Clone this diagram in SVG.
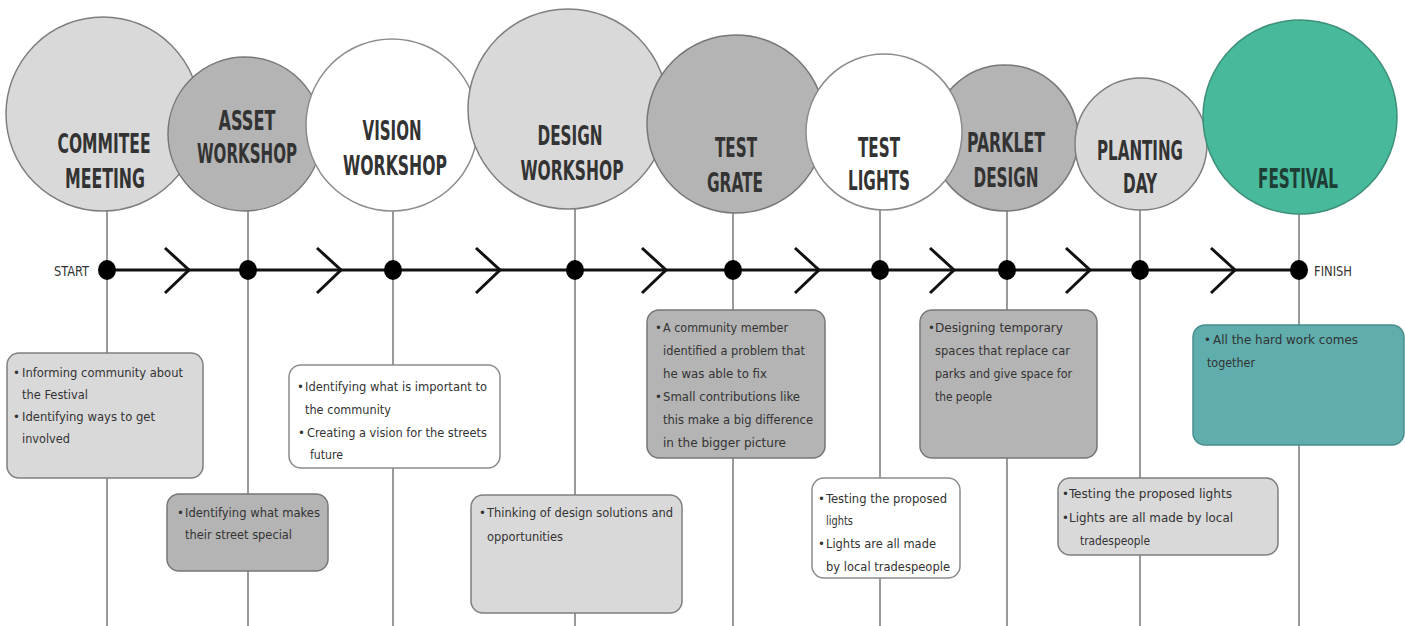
<svg xmlns="http://www.w3.org/2000/svg" width="1405" height="626" viewBox="0 0 1405 626">
<defs>
<style>
.light{fill:#d9d9d9;stroke:#7f7f7f;stroke-width:1.5}
.dark{fill:#b4b4b4;stroke:#777777;stroke-width:1.5}
.white{fill:#ffffff;stroke:#8c8c8c;stroke-width:1.5}
.teal{fill:#48b99b;stroke:#3c8f78;stroke-width:1.5}
.tealbox{fill:#5fadad;stroke:#4b8d8d;stroke-width:1.5}
.vline{stroke:#9a9a9a;stroke-width:2;fill:none}
.cl{font-family:"Liberation Sans Narrow","DejaVu Sans Condensed","Liberation Sans",sans-serif;font-size:27px;font-weight:bold;fill:#333;text-anchor:middle}
.bt{font-family:"Liberation Sans Narrow","DejaVu Sans Condensed","Liberation Sans",sans-serif;font-size:13px;fill:#333}
.se{font-family:"Liberation Sans Narrow","DejaVu Sans Condensed","Liberation Sans",sans-serif;font-size:14px;fill:#333}
.chev{fill:none;stroke:#111;stroke-width:3}
</style>
</defs>
<rect width="1405" height="626" fill="#ffffff"/>

<g id="connectors">
<line class="vline" x1="107" y1="200" x2="107" y2="626"/>
<line class="vline" x1="248" y1="200" x2="248" y2="626"/>
<line class="vline" x1="393" y1="200" x2="393" y2="626"/>
<line class="vline" x1="575" y1="200" x2="575" y2="626"/>
<line class="vline" x1="733" y1="200" x2="733" y2="626"/>
<line class="vline" x1="880" y1="200" x2="880" y2="626"/>
<line class="vline" x1="1007" y1="200" x2="1007" y2="626"/>
<line class="vline" x1="1140" y1="200" x2="1140" y2="626"/>
<line class="vline" x1="1299" y1="200" x2="1299" y2="626"/>
<line x1="107" y1="270" x2="1299" y2="270" stroke="#111" stroke-width="3"/>
<polyline class="chev" points="165,248 189,270 165,293"/>
<polyline class="chev" points="317,248 341,270 317,293"/>
<polyline class="chev" points="476,248 500,270 476,293"/>
<polyline class="chev" points="642,248 666,270 642,293"/>
<polyline class="chev" points="795,248 819,270 795,293"/>
<polyline class="chev" points="930,248 954,270 930,293"/>
<polyline class="chev" points="1066,248 1090,270 1066,293"/>
<polyline class="chev" points="1211,248 1235,270 1211,293"/>
<g fill="#000">
<ellipse cx="107" cy="270" rx="9" ry="10"/>
<ellipse cx="248" cy="270" rx="9" ry="10"/>
<ellipse cx="393" cy="270" rx="9" ry="10"/>
<ellipse cx="575" cy="270" rx="9" ry="10"/>
<ellipse cx="733" cy="270" rx="9" ry="10"/>
<ellipse cx="880" cy="270" rx="9" ry="10"/>
<ellipse cx="1007" cy="270" rx="9" ry="10"/>
<ellipse cx="1140" cy="270" rx="9" ry="10"/>
<ellipse cx="1299" cy="270" rx="9" ry="10"/>
</g>
<text class="se" x="54" y="276" textLength="35" lengthAdjust="spacingAndGlyphs">START</text>
<text class="se" x="1314" y="276" textLength="38" lengthAdjust="spacingAndGlyphs">FINISH</text>
</g>

<g id="node-commitee">
<circle class="light" cx="103" cy="114" r="97"/>
<text class="cl" x="104" y="153" textLength="93" lengthAdjust="spacingAndGlyphs">COMMITEE</text>
<text class="cl" x="105" y="188" textLength="80" lengthAdjust="spacingAndGlyphs">MEETING</text>
</g>
<g id="node-asset">
<circle class="dark" cx="245" cy="134" r="77"/>
<text class="cl" x="247" y="130" textLength="57" lengthAdjust="spacingAndGlyphs">ASSET</text>
<text class="cl" x="247" y="163" textLength="100" lengthAdjust="spacingAndGlyphs">WORKSHOP</text>
</g>
<g id="node-vision">
<circle class="white" cx="392" cy="125" r="86"/>
<text class="cl" x="392" y="140" textLength="59" lengthAdjust="spacingAndGlyphs">VISION</text>
<text class="cl" x="395" y="175" textLength="104" lengthAdjust="spacingAndGlyphs">WORKSHOP</text>
</g>
<g id="node-design">
<circle class="light" cx="568" cy="109" r="100"/>
<text class="cl" x="570" y="145" textLength="65" lengthAdjust="spacingAndGlyphs">DESIGN</text>
<text class="cl" x="572" y="180" textLength="103" lengthAdjust="spacingAndGlyphs">WORKSHOP</text>
</g>
<g id="node-grate">
<circle class="dark" cx="736" cy="124" r="89"/>
<text class="cl" x="736" y="157" textLength="42" lengthAdjust="spacingAndGlyphs">TEST</text>
<text class="cl" x="735" y="192" textLength="56" lengthAdjust="spacingAndGlyphs">GRATE</text>
</g>
<g id="node-parklet">
<circle class="dark" cx="1005" cy="138" r="73"/>
<text class="cl" x="1006" y="152" textLength="78" lengthAdjust="spacingAndGlyphs">PARKLET</text>
<text class="cl" x="1006" y="187" textLength="65" lengthAdjust="spacingAndGlyphs">DESIGN</text>
</g>
<g id="node-lights">
<circle class="white" cx="884" cy="132" r="78"/>
<text class="cl" x="879" y="157" textLength="42" lengthAdjust="spacingAndGlyphs">TEST</text>
<text class="cl" x="879" y="190" textLength="62" lengthAdjust="spacingAndGlyphs">LIGHTS</text>
</g>
<g id="node-planting">
<circle class="light" cx="1141" cy="144" r="66"/>
<text class="cl" x="1140" y="160" textLength="86" lengthAdjust="spacingAndGlyphs">PLANTING</text>
<text class="cl" x="1140" y="193" textLength="34" lengthAdjust="spacingAndGlyphs">DAY</text>
</g>
<g id="node-festival">
<circle class="teal" cx="1300" cy="117" r="97"/>
<text class="cl" x="1298" y="188" textLength="80" lengthAdjust="spacingAndGlyphs" fill="#1e3d34" style="fill:#1e3d34">FESTIVAL</text>
</g>

<g id="box-commitee">
<rect class="light" x="7" y="353" width="196" height="125" rx="12"/>
<text class="bt" x="13" y="377">•</text>
<text class="bt" x="22" y="377" textLength="161" lengthAdjust="spacingAndGlyphs">Informing community about</text>
<text class="bt" x="22" y="399" textLength="66" lengthAdjust="spacingAndGlyphs">the Festival</text>
<text class="bt" x="13" y="421">•</text>
<text class="bt" x="22" y="421" textLength="133" lengthAdjust="spacingAndGlyphs">Identifying ways to get</text>
<text class="bt" x="22" y="443" textLength="48" lengthAdjust="spacingAndGlyphs">involved</text>
</g>
<g id="box-asset">
<rect class="dark" x="167" y="494" width="161" height="77" rx="12"/>
<text class="bt" x="177" y="517">•</text>
<text class="bt" x="185" y="517" textLength="135" lengthAdjust="spacingAndGlyphs">Identifying what makes</text>
<text class="bt" x="185" y="539" textLength="107" lengthAdjust="spacingAndGlyphs">their street special</text>
</g>
<g id="box-vision">
<rect class="white" x="289" y="365" width="211" height="103" rx="12"/>
<text class="bt" x="297" y="391">•</text>
<text class="bt" x="305" y="391" textLength="182" lengthAdjust="spacingAndGlyphs">Identifying what is important to</text>
<text class="bt" x="305" y="414" textLength="86" lengthAdjust="spacingAndGlyphs">the community</text>
<text class="bt" x="298" y="437">•</text>
<text class="bt" x="307" y="437" textLength="180" lengthAdjust="spacingAndGlyphs">Creating a vision for the streets</text>
<text class="bt" x="310" y="459" textLength="33" lengthAdjust="spacingAndGlyphs">future</text>
</g>
<g id="box-design">
<rect class="light" x="471" y="495" width="211" height="118" rx="12"/>
<text class="bt" x="479" y="517">•</text>
<text class="bt" x="487" y="517" textLength="186" lengthAdjust="spacingAndGlyphs">Thinking of design solutions and</text>
<text class="bt" x="487" y="541" textLength="76" lengthAdjust="spacingAndGlyphs">opportunities</text>
</g>
<g id="box-grate">
<rect class="dark" x="647" y="310" width="178" height="148" rx="12"/>
<text class="bt" x="655" y="332">•</text>
<text class="bt" x="663" y="332" textLength="125" lengthAdjust="spacingAndGlyphs">A community member</text>
<text class="bt" x="663" y="355" textLength="142" lengthAdjust="spacingAndGlyphs">identified a problem that</text>
<text class="bt" x="663" y="378" textLength="104" lengthAdjust="spacingAndGlyphs">he was able to fix</text>
<text class="bt" x="655" y="401">•</text>
<text class="bt" x="663" y="401" textLength="137" lengthAdjust="spacingAndGlyphs">Small contributions like</text>
<text class="bt" x="663" y="424" textLength="150" lengthAdjust="spacingAndGlyphs">this make a big difference</text>
<text class="bt" x="663" y="447" textLength="123" lengthAdjust="spacingAndGlyphs">in the bigger picture</text>
</g>
<g id="box-lights">
<rect class="white" x="812" y="478" width="148" height="100" rx="12"/>
<text class="bt" x="818" y="503">•</text>
<text class="bt" x="826" y="503" textLength="121" lengthAdjust="spacingAndGlyphs">Testing the proposed</text>
<text class="bt" x="826" y="525" textLength="27" lengthAdjust="spacingAndGlyphs">lights</text>
<text class="bt" x="818" y="548">•</text>
<text class="bt" x="826" y="548" textLength="110" lengthAdjust="spacingAndGlyphs">Lights are all made</text>
<text class="bt" x="826" y="571" textLength="124" lengthAdjust="spacingAndGlyphs">by local tradespeople</text>
</g>
<g id="box-parklet">
<rect class="dark" x="920" y="310" width="177" height="148" rx="12"/>
<text class="bt" x="928" y="332">•</text>
<text class="bt" x="935" y="332" textLength="128" lengthAdjust="spacingAndGlyphs">Designing temporary</text>
<text class="bt" x="935" y="355" textLength="135" lengthAdjust="spacingAndGlyphs">spaces that replace car</text>
<text class="bt" x="935" y="378" textLength="137" lengthAdjust="spacingAndGlyphs">parks and give space for</text>
<text class="bt" x="935" y="401" textLength="57" lengthAdjust="spacingAndGlyphs">the people</text>
</g>
<g id="box-planting">
<rect class="light" x="1058" y="478" width="220" height="77" rx="12"/>
<text class="bt" x="1062" y="498">•</text>
<text class="bt" x="1069" y="498" textLength="163" lengthAdjust="spacingAndGlyphs">Testing the proposed lights</text>
<text class="bt" x="1062" y="522">•</text>
<text class="bt" x="1069" y="522" textLength="164" lengthAdjust="spacingAndGlyphs">Lights are all made by local</text>
<text class="bt" x="1080" y="545" textLength="70" lengthAdjust="spacingAndGlyphs">tradespeople</text>
</g>
<g id="box-festival">
<rect class="tealbox" x="1193" y="325" width="211" height="120" rx="12"/>
<text class="bt" x="1204" y="344">•</text>
<text class="bt" x="1213" y="344" textLength="145" lengthAdjust="spacingAndGlyphs">All the hard work comes</text>
<text class="bt" x="1207" y="367" textLength="48" lengthAdjust="spacingAndGlyphs">together</text>
</g>
</svg>
